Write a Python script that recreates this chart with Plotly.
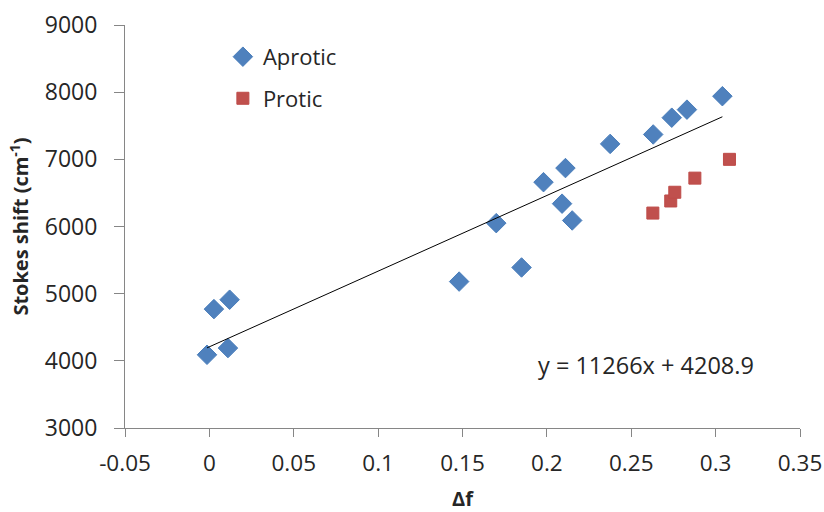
import plotly.graph_objects as go

# Aprotic solvents
aprotic_x = [-0.0014, 0.0027, 0.012, 0.011, 0.148, 0.170, 0.185, 0.198, 0.209, 0.211, 0.215, 0.2375, 0.263, 0.274, 0.283, 0.304]
aprotic_y = [4090, 4770, 4910, 4190, 5180, 6050, 5390, 6660, 6340, 6870, 6090, 7230, 7370, 7620, 7740, 7940]

# Protic solvents
protic_x = [0.2628, 0.2734, 0.2758, 0.2877, 0.3082]
protic_y = [6200, 6380, 6510, 6720, 7000]

# Linear trend (aprotic fit)
slope = 11266
intercept = 4208.9
trend_x = [min(aprotic_x), max(aprotic_x)]
trend_y = [slope * x + intercept for x in trend_x]

x_ticks = [-0.05, 0, 0.05, 0.1, 0.15, 0.2, 0.25, 0.3, 0.35]
x_tick_labels = ["-0.05", "0", "0.05", "0.1", "0.15", "0.2", "0.25", "0.3", "0.35"]
y_ticks = [3000, 4000, 5000, 6000, 7000, 8000, 9000]

FONT = "Open Sans"
TXT = "#262626"
AX = "#868686"

fig = go.Figure()
fig.add_trace(go.Scatter(
    x=aprotic_x, y=aprotic_y, mode="markers", name="Aprotic",
    legendgroup="a",
    marker=dict(symbol="diamond", size=15, color="#4F81BD",
                line=dict(color="#4A7EBB", width=1))))
fig.add_trace(go.Scatter(
    x=protic_x, y=protic_y, mode="markers", name="Protic",
    legendgroup="p",
    marker=dict(symbol="square", size=12, color="#C0504D",
                line=dict(color="#BE4B48", width=1))))
fig.add_trace(go.Scatter(
    x=trend_x, y=trend_y, mode="lines", showlegend=False,
    line=dict(color="black", width=1)))

fig.add_annotation(
    x=0.259, y=3937, xref="x", yref="y", text=f"y = {slope}x + {intercept}",
    showarrow=False, font=dict(family=FONT, size=23.5, color=TXT))

fig.update_layout(
    width=824, height=512,
    margin=dict(l=125, r=24, t=25, b=84),
    paper_bgcolor="white", plot_bgcolor="white",
    font=dict(family=FONT, size=20, color=TXT),
    showlegend=True,
    legend=dict(x=0.145, y=0.973, xanchor="left", yanchor="top",
                bgcolor="rgba(0,0,0,0)", font=dict(family=FONT, size=22, color=TXT),
                traceorder="grouped", tracegroupgap=10, itemwidth=30),
    xaxis=dict(range=[-0.05, 0.35], tickvals=x_ticks, ticktext=x_tick_labels,
               automargin=False,
               showgrid=False, zeroline=False, showline=True, linecolor=AX, linewidth=1,
               ticks="outside", ticklen=8, tickcolor=AX, ticklabelstandoff=7,
               tickfont=dict(family=FONT, size=22.5, color=TXT),
               title=dict(text="<b>Δf</b>", font=dict(family=FONT, size=20, color=TXT), standoff=21)),
    yaxis=dict(range=[3000, 9000], tickvals=y_ticks,
               automargin=False,
               showgrid=False, zeroline=False, showline=True, linecolor=AX, linewidth=1,
               ticks="outside", ticklen=10, tickcolor=AX, ticklabelstandoff=12,
               tickfont=dict(family=FONT, size=23, color=TXT),
               title=dict(text="<b>Stokes shift (cm<sup>-1</sup>)</b>",
                          font=dict(family=FONT, size=20, color=TXT), standoff=10)),
)

fig.write_html("out.html", config={"displayModeBar": False},
               post_script="document.body.style.margin='0';document.body.style.overflow='hidden';")
